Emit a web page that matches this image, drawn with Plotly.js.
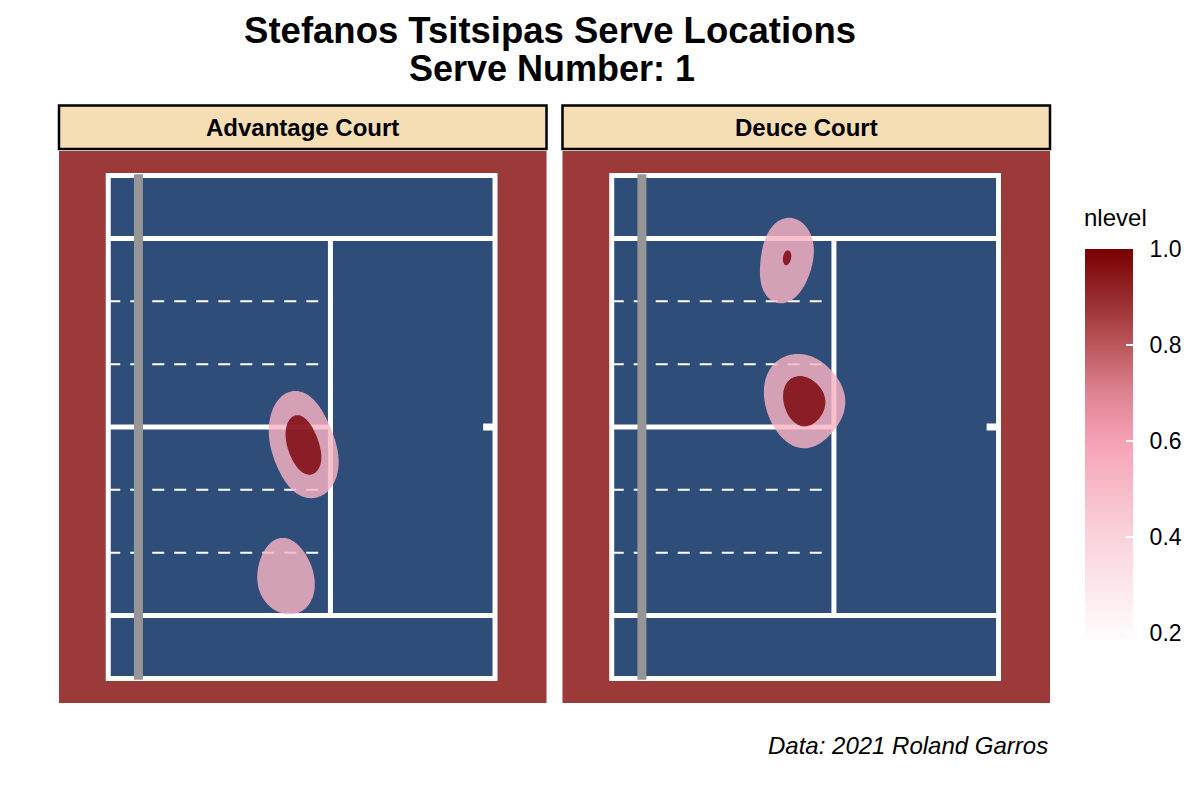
<!DOCTYPE html>
<html>
<head>
<meta charset="utf-8">
<script src="https://cdn.plot.ly/plotly-3.0.1.min.js"></script>
<style>html,body{margin:0;padding:0;background:#fff;}#chart{width:1200px;height:800px;}</style>
</head>
<body>
<div id="chart"></div>
<script>
// ---- data (serve locations, feet: x = distance from net, y = lateral) ----
const panels = ['Advantage Court', 'Deuce Court'];
const titleLines = ['Stefanos Tsitsipas Serve Locations', 'Serve Number: 1'];
const advServeX = [16.9, 17.5, 16.3, 17.9, 19.1, 16.9, 18.3, 19.9, 18.1, 19.5, 15.6, 16.0, 14.6, 17.4, 15.6, 17.6];
const advServeY = [1.6, 0.7, -0.3, -0.1, -1.1, -1.7, -2.1, -2.5, -3.5, -3.9, -8.6, -9.9, -10.9, -10.7, -12.0, -12.3];
const deuceServeX = [15.2, 16.8, 18.6, 15.4, 17.4, 19.8, 16.6, 18.6, 20.6, 17.8, 16.0, 16.8, 15.4, 16.2, 15.2, 15.0];
const deuceServeY = [3.4, 3.8, 3.6, 1.8, 2.0, 2.2, 0.6, 0.6, 1.6, -0.4, 14.0, 13.0, 12.6, 11.6, 10.6, 9.8];
const levelBreaks = [0.3, 0.75];
const legendTicks = [0.2, 0.4, 0.6, 0.8, 1.0];
const legendRange = [0.175, 1.0];

// ---- styling ----
const FONT = 'Liberation Sans, Arial, Helvetica, sans-serif';
const COURT_BLUE = '#2E4D78';
const BG_RED = '#9C3A39';
const levelColors = ['rgba(248,178,194,0.82)', 'rgba(123,0,7,0.82)'];
const legendScale = [[0, '#FFFFFF'], [0.273, '#FAD3DB'], [0.515, '#F6A2B5'], [0.636, '#DE8391'], [0.758, '#B9575A'], [0.879, '#962A2C'], [1, '#780000']];

// bandwidths (ft)
const HX = 2.0, HY = 1.45;

// KDE grid
const gx = [], gy = [];
for (let x = 5; x <= 32.001; x += 0.2) gx.push(+x.toFixed(2));
for (let y = -19.5; y <= 19.501; y += 0.2) gy.push(+y.toFixed(2));

function kde(px, py) {
  const z = gy.map(y => gx.map(x => {
    let s = 0;
    for (let k = 0; k < px.length; k++) {
      const dx = (x - px[k]) / HX, dy = (y - py[k]) / HY;
      s += Math.exp(-0.5 * (dx * dx + dy * dy));
    }
    return s;
  }));
  let m = 0;
  z.forEach(r => r.forEach(v => { if (v > m) m = v; }));
  return z.map(r => r.map(v => v / m));
}

const zAdv = kde(advServeX, advServeY);
const zDeuce = kde(deuceServeX, deuceServeY);

const traces = [];
[[zAdv, 'x', 'y'], [zDeuce, 'x2', 'y2']].forEach(([z, xa, ya]) => {
  levelBreaks.forEach((t, i) => {
    traces.push({
      type: 'contour', x: gx, y: gy, z: z, xaxis: xa, yaxis: ya,
      autocontour: false,
      contours: {start: t, end: t, size: 1, coloring: 'fill', showlines: false},
      line: {width: 0, smoothing: 1.2},
      colorscale: [[0, 'rgba(0,0,0,0)'], [0.45, 'rgba(0,0,0,0)'], [0.55, levelColors[i]], [1, levelColors[i]]],
      showscale: false, hoverinfo: 'skip', showlegend: false
    });
  });
});

// colour bar carrier
traces.push({
  type: 'scatter', mode: 'markers', x: [20], y: [0], xaxis: 'x2', yaxis: 'y2',
  hoverinfo: 'skip', showlegend: false,
  marker: {
    size: 1, opacity: 0, color: [legendRange[0]], cmin: legendRange[0], cmax: legendRange[1],
    colorscale: legendScale, showscale: true,
    colorbar: {
      x: 1.0343, xanchor: 'left', xpad: 0, y: 0.8225, yanchor: 'top', ypad: 0,
      thickness: 48, thicknessmode: 'pixels', len: 396, lenmode: 'pixels',
      outlinewidth: 0, ticks: 'inside', ticklen: 7, tickcolor: '#FFFFFF', tickwidth: 1.2,
      tickvals: legendTicks, ticktext: legendTicks.map(v => '\u2002' + v.toFixed(1)),
      tickfont: {family: FONT, size: 23, color: '#000'}
    }
  }
});

// ---- court geometry (ft) ----
const X_LEFT = -3.3, X_BASE = 39, X_SERVICE = 21, Y_DBL = 18, Y_SGL = 13.5;
const dashYs = [-9, -4.5, 4.5, 9];
const shapes = [];
[['x', 'y'], ['x2', 'y2']].forEach(([xr, yr]) => {
  const L = (x0, y0, x1, y1, color, width, dash) => shapes.push({
    type: 'line', xref: xr, yref: yr, x0, y0, x1, y1, layer: 'below',
    line: {color, width, dash: dash || 'solid'}
  });
  shapes.push({type: 'rect', xref: xr, yref: yr, x0: X_LEFT, x1: X_BASE, y0: -Y_DBL, y1: Y_DBL,
    layer: 'below', fillcolor: COURT_BLUE, line: {color: '#FFFFFF', width: 5}});
  L(X_LEFT, Y_SGL, X_BASE, Y_SGL, '#FFFFFF', 5);
  L(X_LEFT, -Y_SGL, X_BASE, -Y_SGL, '#FFFFFF', 5);
  L(X_SERVICE, -Y_SGL, X_SERVICE, Y_SGL, '#FFFFFF', 5);
  L(X_LEFT, 0, X_SERVICE, 0, '#FFFFFF', 5);
  L(37.7, 0, X_BASE, 0, '#FFFFFF', 7);
  dashYs.forEach(y => L(X_LEFT, y, 20, y, '#FFFFFF', 2, '12px,10px'));
  L(0, -18.1, 0, 18.1, '#969696', 9);
});

// strips
const doms = [[0, 0.49194], [0.50806, 1]];
const annotations = [];
doms.forEach((d, i) => {
  shapes.push({type: 'rect', xref: 'paper', yref: 'paper', x0: d[0], x1: d[1], y0: 1.0036, y1: 1.0824,
    fillcolor: '#F5DEB3', line: {color: '#000000', width: 2.5}, layer: 'above'});
  annotations.push({xref: 'paper', yref: 'paper', x: (d[0] + d[1]) / 2, y: 1.043, xanchor: 'center', yanchor: 'middle',
    text: panels[i], showarrow: false, font: {family: FONT, size: 24, color: '#000', weight: 'bold'}});
});
annotations.push({xref: 'paper', yref: 'paper', x: 0.4975, y: 1.1486, xanchor: 'center', yanchor: 'middle',
  text: titleLines[1], showarrow: false, font: {family: FONT, size: 36, color: '#000', weight: 'bold'}});
annotations.push({xref: 'paper', yref: 'paper', x: 1.0323, y: 0.8804, xanchor: 'left', yanchor: 'middle',
  text: 'nlevel', showarrow: false, font: {family: FONT, size: 24, color: '#000'}});
annotations.push({xref: 'paper', yref: 'paper', x: 1, y: -0.0761, xanchor: 'right', yanchor: 'middle',
  text: 'Data: 2021 Roland Garros', showarrow: false, font: {family: FONT, size: 24, color: '#000', style: 'italic'}});

const XR = [-8.685, 44.63], YR = [-19.76, 19.76];
const layout = {
  width: 1200, height: 800,
  margin: {l: 59, r: 149, t: 151, b: 97},
  paper_bgcolor: '#FFFFFF', plot_bgcolor: BG_RED,
  showlegend: false,
  title: {text: titleLines[0], x: 0.4955, xref: 'paper', xanchor: 'center',
    y: 1 - 30 / 800, yref: 'container', yanchor: 'middle', font: {family: FONT, size: 36.5, color: '#000', weight: 'bold'}},
  xaxis: {domain: doms[0], range: XR, visible: false, fixedrange: true},
  yaxis: {domain: [0, 1], range: YR, visible: false, fixedrange: true},
  xaxis2: {domain: doms[1], range: XR, visible: false, fixedrange: true, anchor: 'y2'},
  yaxis2: {domain: [0, 1], range: YR, visible: false, fixedrange: true, anchor: 'x2'},
  shapes, annotations
};

Plotly.newPlot('chart', traces, layout, {displayModeBar: false, staticPlot: true});
</script>
</body>
</html>
